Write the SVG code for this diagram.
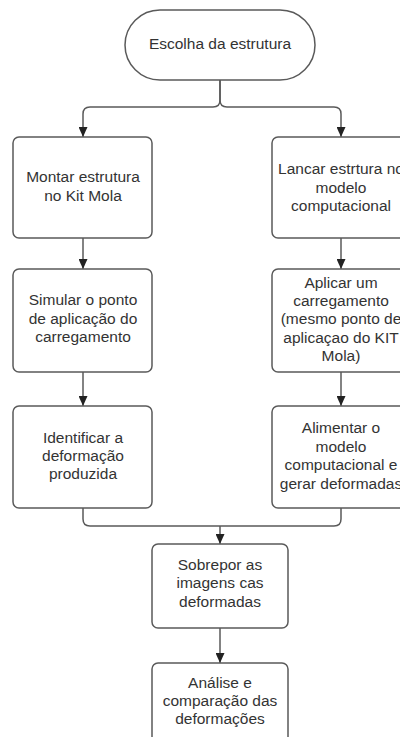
<svg xmlns="http://www.w3.org/2000/svg" width="400" height="737" viewBox="0 0 400 737">
<defs>
<marker id="arr" markerUnits="userSpaceOnUse" markerWidth="10" markerHeight="9" refX="10" refY="4.5" orient="auto">
<path d="M0,0 L10,4.5 L0,9 Z" fill="#222"/>
</marker>
<style>
.box{fill:#fff;stroke:#5a5a5a;stroke-width:1.5}
.lbl{font-family:"Liberation Sans",Arial,sans-serif;font-size:15.5px;fill:#333;text-anchor:middle}
.con{fill:none;stroke:#5a5a5a;stroke-width:1.5}
</style>
</defs>
<rect width="400" height="737" fill="#fff"/>
<g id="connectors">
<path class="con" d="M220,80 V100 Q220,107 213,107 H90 Q83,107 83,114 V137" marker-end="url(#arr)"/>
<path class="con" d="M220,80 V100 Q220,107 227,107 H334 Q341,107 341,114 V137" marker-end="url(#arr)"/>
<path class="con" d="M83,238 V269" marker-end="url(#arr)"/>
<path class="con" d="M83,372 V406" marker-end="url(#arr)"/>
<path class="con" d="M341,238 V269" marker-end="url(#arr)"/>
<path class="con" d="M341,372 V406" marker-end="url(#arr)"/>
<path class="con" d="M83,508 V519 Q83,526 90,526 H334 Q341,526 341,519 V508"/>
<path class="con" d="M220,526 V544" marker-end="url(#arr)"/>
<path class="con" d="M220,628 V663" marker-end="url(#arr)"/>
</g>
<g id="n_escolha">
<rect class="box" x="125" y="10" width="190" height="70" rx="35" ry="35"/>
<text class="lbl" x="220" y="49">Escolha da estrutura</text>
</g>
<g id="n_montar">
<rect class="box" x="13" y="137" width="139" height="101" rx="6"/>
<text class="lbl" x="83" y="182">Montar estrutura</text>
<text class="lbl" x="83" y="201">no Kit Mola</text>
</g>
<g id="n_simular">
<rect class="box" x="13" y="269" width="139" height="103" rx="6"/>
<text class="lbl" x="83" y="305">Simular o ponto</text>
<text class="lbl" x="83" y="324">de aplicação do</text>
<text class="lbl" x="83" y="342">carregamento</text>
</g>
<g id="n_identificar">
<rect class="box" x="13" y="406" width="139" height="102" rx="6"/>
<text class="lbl" x="83" y="443">Identificar a</text>
<text class="lbl" x="83" y="461">deformação</text>
<text class="lbl" x="83" y="479">produzida</text>
</g>
<g id="n_lancar">
<rect class="box" x="272" y="137" width="138" height="101" rx="6"/>
<text class="lbl" x="341" y="174">Lancar estrtura no</text>
<text class="lbl" x="341" y="193">modelo</text>
<text class="lbl" x="341" y="211">computacional</text>
</g>
<g id="n_aplicar">
<rect class="box" x="272" y="269" width="138" height="103" rx="6"/>
<text class="lbl" x="341" y="288">Aplicar um</text>
<text class="lbl" x="341" y="306">carregamento</text>
<text class="lbl" x="341" y="324">(mesmo ponto de</text>
<text class="lbl" x="341" y="343">aplicaçao do KIT</text>
<text class="lbl" x="341" y="361">Mola)</text>
</g>
<g id="n_alimentar">
<rect class="box" x="272" y="406" width="138" height="102" rx="6"/>
<text class="lbl" x="341" y="433">Alimentar o</text>
<text class="lbl" x="341" y="452">modelo</text>
<text class="lbl" x="341" y="470">computacional e</text>
<text class="lbl" x="341" y="489">gerar deformadas</text>
</g>
<g id="n_sobrepor">
<rect class="box" x="152" y="544" width="136" height="84" rx="6"/>
<text class="lbl" x="220" y="570">Sobrepor as</text>
<text class="lbl" x="220" y="588">imagens cas</text>
<text class="lbl" x="220" y="607">deformadas</text>
</g>
<g id="n_analise">
<rect class="box" x="152" y="663" width="136" height="84" rx="6"/>
<text class="lbl" x="220" y="688">Análise e</text>
<text class="lbl" x="220" y="706">comparação das</text>
<text class="lbl" x="220" y="724">deformações</text>
</g>
</svg>
